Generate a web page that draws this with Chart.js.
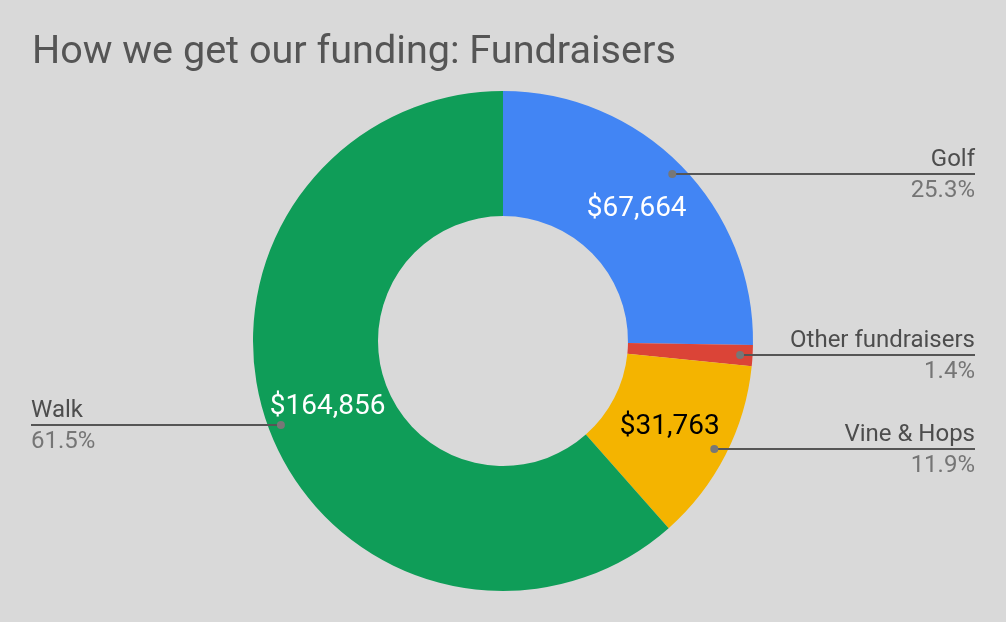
<!DOCTYPE html>
<html>
<head>
<meta charset="utf-8">
<script src="https://cdn.jsdelivr.net/npm/chart.js@4/dist/chart.umd.min.js"></script>
<style>
  html, body { margin: 0; padding: 0; background: #d9d9d9; }
  #wrap { width: 1006px; height: 622px; position: relative; }
</style>
</head>
<body>
<div id="wrap"><canvas id="c" width="1006" height="622"></canvas></div>
<script>
const chartTitle = "How we get our funding: Fundraisers";
const categories = ["Golf", "Other fundraisers", "Vine & Hops", "Walk"];
const values = [67664, 3650, 31763, 164856];
const percentLabels = ["25.3%", "1.4%", "11.9%", "61.5%"];
const valueLabels = ["$67,664", "", "$31,763", "$164,856"];
const sliceColors = ["#4285F4", "#DB4437", "#F4B400", "#0F9D58"];
const valueTextColors = ["#ffffff", "#ffffff", "#000000", "#ffffff"];

const FONT = "Roboto, 'Noto Sans', sans-serif";

const bgPlugin = {
  id: 'bg',
  beforeDraw(chart) {
    const ctx = chart.ctx;
    ctx.save();
    ctx.fillStyle = '#d9d9d9';
    ctx.fillRect(0, 0, chart.width, chart.height);
    ctx.restore();
  }
};

const labelPlugin = {
  id: 'labels',
  afterDraw(chart) {
    const ctx = chart.ctx;
    ctx.save();
    ctx.fillStyle = '#555555';
    ctx.font = '39.6px ' + FONT;
    ctx.textAlign = 'left';
    ctx.textBaseline = 'alphabetic';
    ctx.fillText(chartTitle, 32, 63);

    const meta = chart.getDatasetMeta(0);
    meta.data.forEach((arc, i) => {
      const p = arc.getProps(['x', 'y', 'startAngle', 'endAngle', 'innerRadius', 'outerRadius'], true);
      const mid = (p.startAngle + p.endAngle) / 2;
      if (valueLabels[i]) {
        const rm = (p.innerRadius + p.outerRadius) / 2;
        const vx = p.x + Math.cos(mid) * rm;
        const vy = p.y + Math.sin(mid) * rm;
        ctx.font = '28px ' + FONT;
        ctx.fillStyle = valueTextColors[i];
        ctx.textAlign = 'center';
        ctx.textBaseline = 'middle';
        ctx.fillText(valueLabels[i], vx, vy);
      }
      const rd = p.outerRadius * 0.95;
      const dx = p.x + Math.cos(mid) * rd;
      const dy = Math.round(p.y + Math.sin(mid) * rd);
      const right = Math.cos(mid) >= 0;
      const endX = right ? 975 : 31;
      ctx.strokeStyle = '#555555';
      ctx.lineWidth = 2;
      ctx.beginPath();
      ctx.moveTo(dx, dy);
      ctx.lineTo(endX, dy);
      ctx.stroke();
      ctx.fillStyle = '#777777';
      ctx.beginPath();
      ctx.arc(dx, dy, 4, 0, Math.PI * 2);
      ctx.fill();
      ctx.textAlign = right ? 'right' : 'left';
      ctx.textBaseline = 'alphabetic';
      ctx.font = '24px ' + FONT;
      ctx.fillStyle = '#4d4d4d';
      ctx.fillText(categories[i], endX, dy - 8);
      ctx.fillStyle = '#757575';
      ctx.fillText(percentLabels[i], endX, dy + 23);
    });
    ctx.restore();
  }
};

new Chart(document.getElementById('c'), {
  type: 'doughnut',
  data: {
    labels: categories,
    datasets: [{
      data: values,
      backgroundColor: sliceColors,
      borderWidth: 0,
      hoverOffset: 0
    }]
  },
  options: {
    responsive: false,
    animation: false,
    cutout: '50%',
    layout: { padding: { top: 91, bottom: 31, left: 253, right: 253 } },
    plugins: {
      legend: { display: false },
      title: { display: false },
      tooltip: { enabled: false }
    }
  },
  plugins: [bgPlugin, labelPlugin]
});
</script>
</body>
</html>
